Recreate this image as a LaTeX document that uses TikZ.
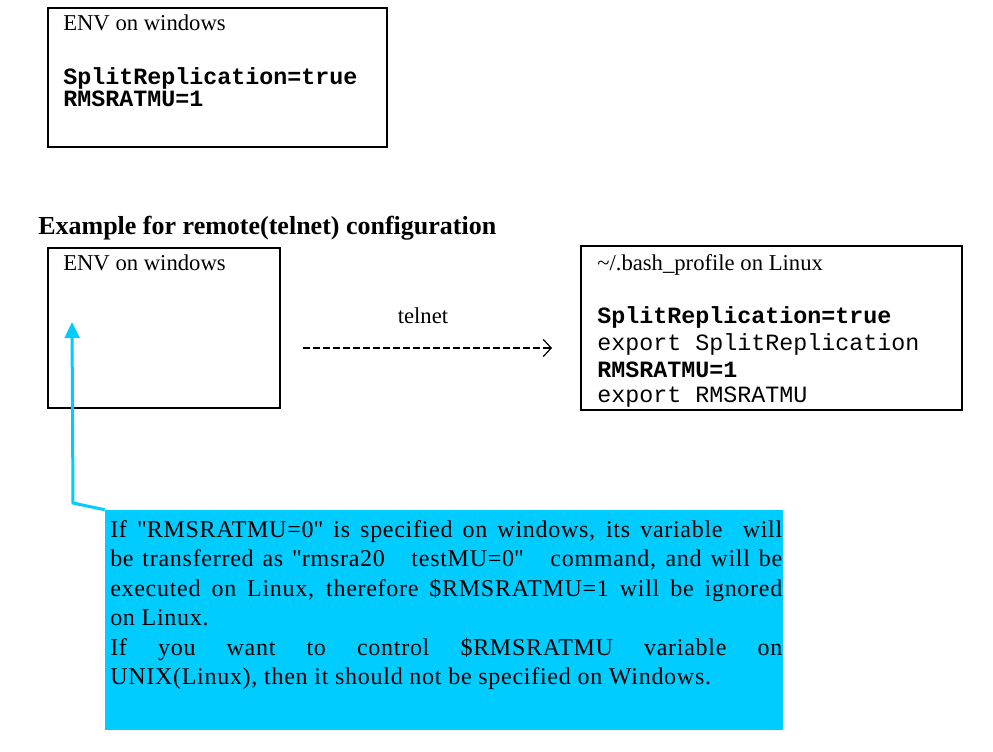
\documentclass[tikz,border=0pt]{standalone}
\usepackage{fontspec}
\setmainfont{Liberation Serif}
\setmonofont{Liberation Mono}
\usepackage{tikz}
\usetikzlibrary{positioning,fit,arrows.meta}

\definecolor{notecyan}{RGB}{0,204,255}

\tikzset{
  envbox/.style={draw=black, line width=1pt, inner sep=0pt},
  envtext/.style={anchor=base west, inner sep=0pt, font=\fontsize{17}{20}\selectfont},
  codetext/.style={anchor=base west, inner sep=0pt, font=\ttfamily\fontsize{17.5}{20}\selectfont},
  codebold/.style={codetext, font=\ttfamily\bfseries\fontsize{17.5}{20}\selectfont},
  notebox/.style={fill=notecyan, draw=none, inner sep=0pt},
  notearrow/.style={draw=notecyan, line width=2.25pt, -{Triangle[width=11pt,length=12pt]}},
  telnetline/.style={dash pattern=on 5pt off 2.5pt, line width=0.9pt, -{Straight Barb[length=6pt,width=13pt,line width=0.9pt]}}
}

\begin{document}
\begin{tikzpicture}[x=0.75pt,y=0.75pt,yscale=-1,xscale=1]
        \useasboundingbox (0,0) rectangle (993,751);

        %Shape: Rectangle [local ENV box]
        \coordinate (topA) at (48,8);
        \coordinate (topB) at (387,147);
        \node [envbox, fit=(topA)(topB)] (envtop) {};
        % Text Node
        \draw (63,30) node [envtext] (envtoptitle) {ENV on windows};
        \draw (63,84) node [codebold] (envtopsplit) {SplitReplication=true};
        \draw (63,106) node [codebold] (envtoprms) {RMSRATMU=1};

        % Text Node
        \draw (38,234) node [anchor=base west, inner sep=0pt, font=\bfseries\fontsize{19.5}{22}\selectfont] (heading) {Example for remote(telnet) configuration};

        %Shape: Rectangle [remote ENV box]
        \coordinate (winA) at (48,248);
        \coordinate (winB) at (280,408);
        \node [envbox, fit=(winA)(winB)] (envwin) {};
        % Text Node
        \draw (63,270) node [envtext] (envwintitle) {ENV on windows};

        %Shape: Rectangle [bash_profile box]
        \coordinate (linA) at (581,246);
        \coordinate (linB) at (962,410);
        \node [envbox, fit=(linA)(linB)] (bashbox) {};
        % Text Node
        \draw (597,270) node [envtext] (bashtitle) {\textasciitilde/.bash\_profile on Linux};
        \draw (597,323) node [codebold] (bashsplit) {SplitReplication=true};
        \draw (597,350) node [codetext] (bashexpsplit) {export SplitReplication};
        \draw (597,377) node [codebold] (bashrms) {RMSRATMU=1};
        \draw (597,402) node [codetext] (bashexprms) {export RMSRATMU};

        %Straight Lines [telnet]
        \coordinate (telnetA) at (303,348);
        \coordinate (telnetB) at (552,348);
        \draw [telnetline] (telnetA) -- (telnetB);
        % Text Node
        \draw (423,323) node [anchor=base, inner sep=0pt, font=\fontsize{17}{20}\selectfont] (telnetlabel) {telnet};

        %Shape: Rectangle [note]
        \coordinate (noteA) at (105,510);
        \coordinate (noteB) at (783,730);
        \node [notebox, fit=(noteA)(noteB)] (note) {};
        % Text Node
        \draw (110,520) node [anchor=north west, inner sep=0pt, align=left, font=\fontsize{18}{22.1}\selectfont\addfontfeatures{LetterSpace=3}] (notetext) {%
          \makebox[504pt][s]{If \textquotedbl RMSRATMU=0\textquotedbl\ is specified on windows, its variable\ \ will}\\
          \makebox[504pt][s]{be transferred as \textquotedbl rmsra20\ \ \ testMU=0\textquotedbl\ \ \ command, and will be}\\
          \makebox[504pt][s]{executed on Linux, therefore \$RMSRATMU=1 will be ignored}\\
          on Linux.\\
          \makebox[504pt][s]{If you want to control \$RMSRATMU variable on}\\
          UNIX(Linux), then it should not be specified on Windows.};

        %Connector [note to windows ENV]
        \coordinate (notebend) at (73,503);
        \coordinate (notetip) at (72,322);
        \draw [notearrow] (note.north west) -- (notebend) -- (notetip);
\end{tikzpicture}
\end{document}
